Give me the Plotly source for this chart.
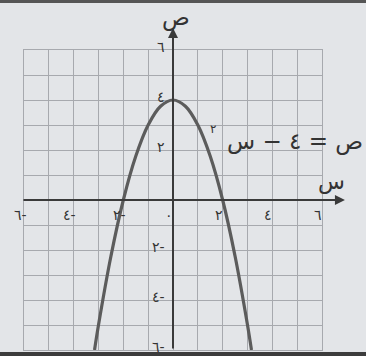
import plotly.graph_objects as go

# ---- data: y = 4 - x^2 ----
curve_x = [-3.16, -3.0, -2.5, -2.0, -1.5, -1.0, -0.5, 0.0, 0.5, 1.0, 1.5, 2.0, 2.5, 3.0, 3.16]
curve_y = [-6.0, -5.0, -2.25, 0.0, 1.75, 3.0, 3.75, 4.0, 3.75, 3.0, 1.75, 0.0, -2.25, -5.0, -6.0]

x_tick_vals = [-6, -4, -2, 0, 2, 4, 6]
x_tick_text = ["٦-", "٤-", "٢-", "٠", "٢", "٤", "٦"]
y_tick_vals = [6, 4, 2, -2, -4, -6]
y_tick_text = ["٦", "٤", "٢", "٢-", "٤-", "٦-"]

equation_text = "ص = ٤ − س"
equation_power = "٢"
x_axis_name = "س"
y_axis_name = "ص"

BG = "#e3e5e8"
GRID = "#a7a9ae"
AXIS = "#3a3a3a"
CURVE = "#5c5c5c"
TEXT = "#333333"
FONT = "DejaVu Sans"

fig = go.Figure()
fig.add_trace(go.Scatter(
    x=curve_x, y=curve_y, mode="lines",
    line=dict(color=CURVE, width=3.2, shape="spline", smoothing=1.0),
    hoverinfo="skip", showlegend=False,
))

axis_common = dict(
    range=[-6, 6], dtick=1, tick0=0, showgrid=True, gridcolor=GRID, gridwidth=1,
    zeroline=False, showticklabels=False, ticks="",
    showline=True, mirror=True, linecolor=GRID, linewidth=1, fixedrange=True,
)
fig.update_xaxes(**axis_common)
fig.update_yaxes(**axis_common)

ann = []
# axes with arrows (paper coords: x=0 / y=0 sit at the centre of the symmetric ranges)
ann.append(dict(x=1.077, y=0.5, xref="paper", yref="paper", ax=-323, ay=0,
                text="", showarrow=True, arrowhead=2, arrowsize=1, arrowwidth=2, arrowcolor=AXIS))
ann.append(dict(x=0.5, y=1.073, xref="paper", yref="paper", ax=0, ay=322,
                text="", showarrow=True, arrowhead=2, arrowsize=1, arrowwidth=2, arrowcolor=AXIS))
# axis names
ann.append(dict(x=1.085, y=0.56, xref="paper", yref="paper", text=x_axis_name, showarrow=False,
                font=dict(family=FONT, size=22, color=TEXT)))
ann.append(dict(x=0.51, y=1.16, xref="paper", yref="paper", text=y_axis_name, showarrow=False,
                font=dict(family=FONT, size=23, color=TEXT)))
# tick labels
for v, t in zip(x_tick_vals, x_tick_text):
    ann.append(dict(x=v, y=0, xref="x", yref="y", text=t, showarrow=False,
                    yanchor="top", yshift=-5, xshift=-4,
                    font=dict(family=FONT, size=14, color=TEXT)))
for v, t in zip(y_tick_vals, y_tick_text):
    ann.append(dict(x=0, y=v, xref="x", yref="y", text=t, showarrow=False,
                    xanchor="right", xshift=-6, yshift=3,
                    font=dict(family=FONT, size=14, color=TEXT)))
# equation
ann.append(dict(x=4.9, y=2.35, xref="x", yref="y", text=equation_text, showarrow=False,
                font=dict(family=FONT, size=23, color=TEXT)))
ann.append(dict(x=1.6, y=2.85, xref="x", yref="y", text=equation_power, showarrow=False,
                font=dict(family=FONT, size=12, color=TEXT)))

shapes = [
    dict(type="rect", xref="paper", yref="paper", x0=-0.2, x1=1.3, y0=1.157, y1=1.2,
         fillcolor="#555", line=dict(width=0), layer="above"),
    dict(type="rect", xref="paper", yref="paper", x0=-0.2, x1=1.3, y0=-0.03, y1=-0.007,
         fillcolor="#3c3c3c", line=dict(width=0), layer="above"),
]

fig.update_layout(
    width=366, height=356,
    margin=dict(l=24, r=44, t=50, b=6),
    paper_bgcolor=BG, plot_bgcolor=BG,
    annotations=ann, shapes=shapes, showlegend=False,
)

fig.write_html("out.html", config={"displayModeBar": False},
               post_script="document.body.style.margin='0';document.body.style.background='%s';" % BG)
